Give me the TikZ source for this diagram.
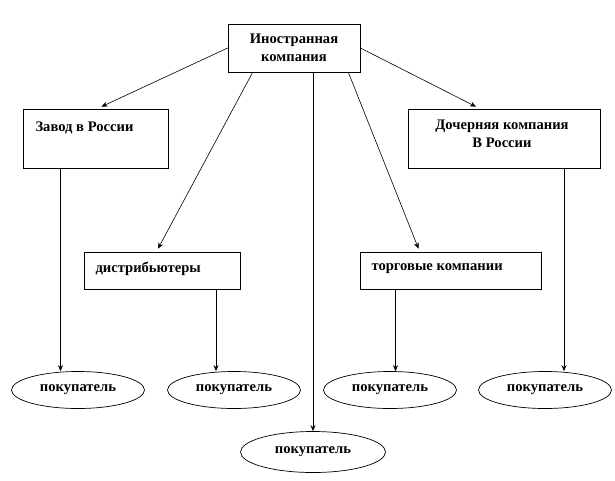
\documentclass[tikz,border=0pt]{standalone}
\usepackage{fontspec}
\setmainfont{Liberation Serif}
\usepackage{tikz}
\usetikzlibrary{arrows.meta,shapes.geometric}

\tikzset{
  box/.style={draw, line width=0.7pt, inner sep=0pt},
  buyer/.style={draw, ellipse, line width=0.7pt, minimum width=133pt, minimum height=37pt, inner sep=0pt, font=\txt},
  arr/.style={-{Stealth[length=6pt,width=5pt]}, line width=0.6pt}
}
\newcommand{\txt}{\fontsize{14.6}{17.5}\selectfont\bfseries}

\begin{document}
\begin{tikzpicture}[x=1pt,y=-1pt]
  \useasboundingbox (0,0) rectangle (615,480);

  % boxes
  \node[box, minimum width=132pt, minimum height=48pt, align=center, font=\txt] (firm) at (294,48) {Иностранная\\компания};
  \node[box, minimum width=145pt, minimum height=59pt] (plant) at (95.5,138.5) {};
  \node[box, minimum width=192pt, minimum height=59pt] (daughter) at (504,138.5) {};
  \node[box, minimum width=156pt, minimum height=37pt] (distr) at (162,270.5) {};
  \node[box, minimum width=181pt, minimum height=37pt] (trade) at (450.5,270.5) {};

  \node[anchor=west, font=\txt] (plantlbl) at (32,128) {Завод в России};
  \node[align=center, font=\txt] (daughterlbl) at (502,134) {Дочерняя компания\\В России};
  \node[anchor=west, font=\txt] (distrlbl) at (92,269) {дистрибьютеры};
  \node[anchor=west, font=\txt] (tradelbl) at (368,269) {торговые компании};

  % buyers
  \node[buyer] (b1) at (78,390) {покупатель};
  \node[buyer] (b2) at (234,390) {покупатель};
  \node[buyer] (b3) at (390,390) {покупатель};
  \node[buyer] (b4) at (545,390) {покупатель};
  \node[buyer, minimum width=145pt, minimum height=41pt] (b5) at (313,452) {покупатель};

  % arrows
  \draw[arr] (firm.west) -- ([xshift=6pt,yshift=2pt]plant.north);
  \draw[arr] (firm.east) -- ([xshift=-28pt,yshift=2pt]daughter.north);
  \draw[arr] ([xshift=25pt]firm.south west) -- ([xshift=-4pt,yshift=3pt]distr.north);
  \draw[arr] ([xshift=-12pt]firm.south east) -- ([xshift=-32pt,yshift=3pt]trade.north);
  \draw[arr] (b5.north |- firm.south) -- (b5.north);

  \draw[arr] ([xshift=-35pt]plant.south) -- ([xshift=-35pt]plant.south |- b1.north);
  \draw[arr] ([xshift=54pt]distr.south) -- ([xshift=54pt]distr.south |- b2.north);
  \draw[arr] ([xshift=-55pt]trade.south) -- ([xshift=-55pt]trade.south |- b3.north);
  \draw[arr] ([xshift=60pt]daughter.south) -- ([xshift=60pt]daughter.south |- b4.north);
\end{tikzpicture}
\end{document}
